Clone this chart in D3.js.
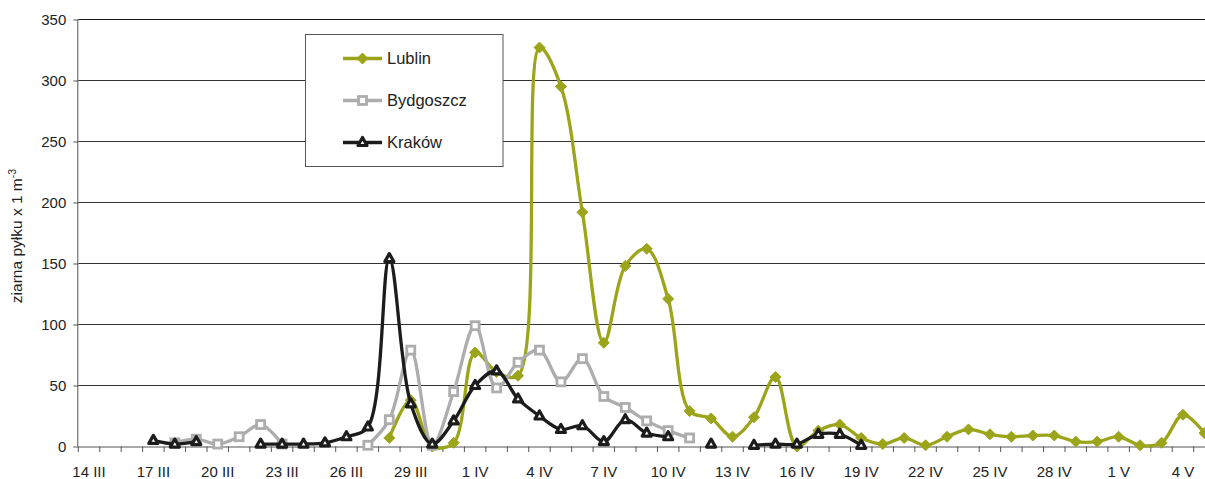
<!DOCTYPE html>
<html><head><meta charset="utf-8">
<script src="https://cdn.jsdelivr.net/npm/d3@7"></script>
<style>
body{margin:0;background:#fff;}
svg{display:block;font-family:"Liberation Sans",Arial,sans-serif;}
</style></head>
<body><svg id="c" width="1205" height="479"></svg>
<script>
// Dates (categories) 14 III – 5 V
const dates = [
 "14 III","15 III","16 III","17 III","18 III","19 III","20 III","21 III","22 III","23 III",
 "24 III","25 III","26 III","27 III","28 III","29 III","30 III","31 III",
 "1 IV","2 IV","3 IV","4 IV","5 IV","6 IV","7 IV","8 IV","9 IV","10 IV",
 "11 IV","12 IV","13 IV","14 IV","15 IV","16 IV","17 IV","18 IV","19 IV","20 IV",
 "21 IV","22 IV","23 IV","24 IV","25 IV","26 IV","27 IV","28 IV","29 IV","30 IV",
 "1 V","2 V","3 V","4 V","5 V"
];
const tickLabels = ["14 III","17 III","20 III","23 III","26 III","29 III","1 IV","4 IV","7 IV","10 IV","13 IV","16 IV","19 IV","22 IV","25 IV","28 IV","1 V","4 V"];
const yTicks = [0,50,100,150,200,250,300,350];
const N = null;
const lublin = [
 N,N,N,N,N,N,N,N,N,N,
 N,N,N,N,7,38,0,3,
 77,61,58,327,295,192,85,148,162,121,
 29,23,8,24,57,0,13,18,7,2,
 7,1,8,14,10,8,9,9,4,4,
 8,1,3,26,11
];
const bydgoszcz = [
 N,N,N,N,3,6,2,8,18,2,
 N,N,N,1,22,79,1,45,
 99,48,69,79,53,72,41,32,21,13,
 7,N,N,N,N,N,N,N,N,N,
 N,N,N,N,N,N,N,N,N,N,
 N,N,N,N,N
];
const krakow = [
 N,N,N,5,2,4,N,N,2,2,
 2,3,8,16,154,35,2,21,
 50,62,39,25,14,17,4,22,11,8,
 N,2,N,1,2,2,10,10,1,N,
 N,N,N,N,N,N,N,N,N,N,
 N,N,N,N,N
];
const seriesNames = ["Lublin","Bydgoszcz","Kraków"];

const svg = d3.select("#c");
const pLeft = 78.3, step = 21.45, pTop = 19.5, pBottom = 446.5;
const x = d3.scaleBand().domain(dates).range([pLeft, pLeft + step*dates.length]).padding(0);
const y = d3.scaleLinear().domain([0,350]).range([pBottom, pTop]);
const cx = d => x(d) + x.bandwidth()/2;
const FONT = "Liberation Sans, Arial, sans-serif";

// gridlines
svg.append("g").selectAll("line").data(yTicks.filter(v=>v>0)).join("line")
  .attr("x1", pLeft).attr("x2", 1205).attr("y1", d=>y(d)).attr("y2", d=>y(d))
  .attr("stroke", d=> d===350 ? "#1a1a1a" : "#333").attr("stroke-width", 1.1);

// y axis
const ya = svg.append("g").attr("transform", `translate(${pLeft},0)`)
  .call(d3.axisLeft(y).tickValues(yTicks).tickSize(5).tickPadding(7));
ya.select(".domain").attr("stroke","#555").attr("d", `M-0.5,${pTop}V${pBottom}`);
ya.selectAll(".tick line").attr("stroke","#555");
ya.selectAll("text").attr("font-size", 15).attr("fill","#222").attr("font-family",FONT);

// x axis
const xa = svg.append("g").attr("transform", `translate(0,${pBottom})`)
  .call(d3.axisBottom(x).tickValues(tickLabels).tickSize(0).tickPadding(20));
xa.select(".domain").attr("stroke","#555").attr("d", `M${pLeft},0.5H1205`);
xa.selectAll("text").attr("font-size", 15).attr("fill","#222").attr("font-family",FONT);
// tick marks between categories
svg.append("g").selectAll("line").data(dates).join("line")
  .attr("x1", d=>x(d)).attr("x2", d=>x(d)).attr("y1", pBottom).attr("y2", pBottom+5.5)
  .attr("stroke","#555").attr("stroke-width",1);

// y title
const yt = svg.append("text").attr("transform","translate(22,236) rotate(-90)")
  .attr("text-anchor","middle").attr("font-size",15.5).attr("fill","#222");
yt.append("tspan").text("ziarna pyłku x 1 m");
yt.append("tspan").attr("dy",-6).attr("font-size",10.5).text("-3");

const curve = d3.curveCatmullRom.alpha(0.5);
const line = d3.line().defined(d=>d.v!==null).x(d=>cx(d.d)).y(d=>y(d.v)).curve(curve);

const styles = [
  {data: lublin, color:"#9ca51a", marker: "diamond"},
  {data: bydgoszcz, color:"#adadad", marker: "square"},
  {data: krakow, color:"#1c1c1c", marker: "triangle"}
];

function drawMarker(g, type, color){
  if(type==="diamond"){
    g.append("path").attr("d","M0,-5.5L5.5,0L0,5.5L-5.5,0Z").attr("fill", color).attr("stroke", color).attr("stroke-width",1);
  } else if(type==="square"){
    g.append("rect").attr("x",-4).attr("y",-4).attr("width",8).attr("height",8)
      .attr("fill","#fff").attr("stroke",color).attr("stroke-width",2.8);
  } else {
    g.append("path").attr("d","M0,-5L4.5,3L-4.5,3Z").attr("fill","#fff").attr("stroke",color).attr("stroke-width",3.2).attr("stroke-linejoin","round");
  }
}

styles.forEach(s=>{
  const pts = dates.map((d,i)=>({d, v: s.data[i]}));
  const g = svg.append("g");
  g.append("path").datum(pts).attr("d", line).attr("fill","none")
    .attr("stroke", s.color).attr("stroke-width", 3.3).attr("stroke-linejoin","round");
  pts.filter(p=>p.v!==null).forEach(p=>{
    const m = g.append("g").attr("transform",`translate(${cx(p.d)},${y(p.v)})`);
    drawMarker(m, s.marker, s.color);
  });
});

// legend
const lg = svg.append("g");
lg.append("rect").attr("x",305.5).attr("y",34.5).attr("width",197.5).attr("height",132)
  .attr("fill","#fff").attr("stroke","#555").attr("stroke-width",1);
const rowsY = [58.5, 100.5, 142.5];
seriesNames.forEach((n,i)=>{
  const s = styles[i];
  lg.append("line").attr("x1",343).attr("x2",382).attr("y1",rowsY[i]).attr("y2",rowsY[i])
    .attr("stroke",s.color).attr("stroke-width",3.3);
  const m = lg.append("g").attr("transform",`translate(362.5,${rowsY[i]})`);
  drawMarker(m, s.marker, s.color);
  lg.append("text").attr("x",387).attr("y",rowsY[i]+5.5).attr("font-size",16.5).attr("fill","#222").text(n);
});
</script></body></html>
